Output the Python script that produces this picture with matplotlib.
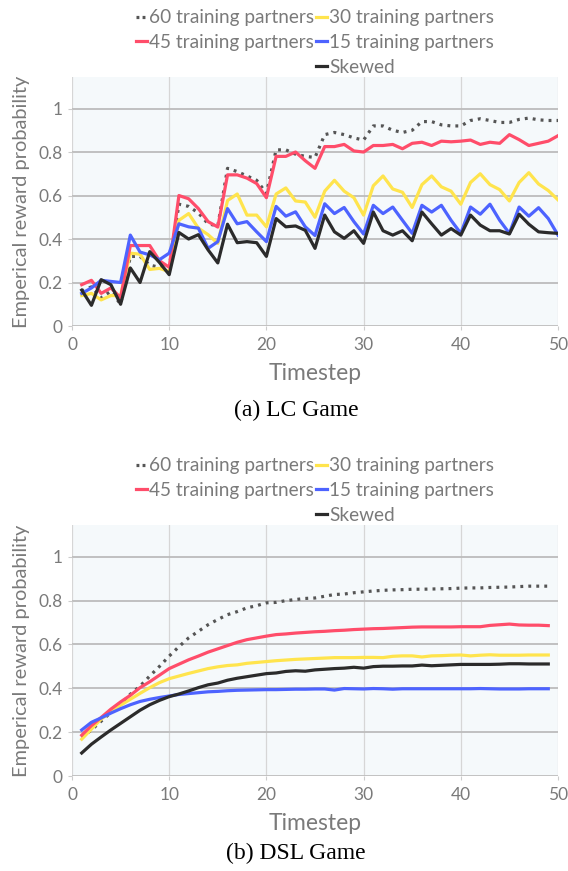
import numpy as np
import matplotlib
matplotlib.use("Agg")
import matplotlib.pyplot as plt
from matplotlib.lines import Line2D

plt.rcParams['font.family'] = ['Lato', 'DejaVu Sans']

labels = ["60 training partners", "45 training partners", "30 training partners",
          "15 training partners", "Skewed"]

# (a) LC Game, timesteps 1..50
lc_x = np.arange(1, 51)
lc_60 = [0.16, 0.18, 0.13, 0.16, 0.10, 0.32, 0.32, 0.28, 0.27, 0.27,
         0.56, 0.55, 0.52, 0.47, 0.46, 0.725, 0.71, 0.69, 0.67, 0.61,
         0.81, 0.81, 0.79, 0.78, 0.775, 0.88, 0.89, 0.88, 0.865, 0.855,
         0.92, 0.92, 0.90, 0.89, 0.90, 0.94, 0.94, 0.925, 0.92, 0.92,
         0.945, 0.953, 0.945, 0.936, 0.936, 0.95, 0.956, 0.948, 0.945, 0.945]
lc_45 = [0.19, 0.21, 0.15, 0.175, 0.13, 0.37, 0.37, 0.37, 0.30, 0.27,
         0.60, 0.585, 0.54, 0.48, 0.455, 0.695, 0.695, 0.68, 0.655, 0.59,
         0.78, 0.78, 0.80, 0.76, 0.725, 0.825, 0.825, 0.835, 0.805, 0.80,
         0.83, 0.83, 0.835, 0.815, 0.84, 0.845, 0.83, 0.85, 0.847, 0.85,
         0.855, 0.835, 0.845, 0.84, 0.88, 0.857, 0.83, 0.84, 0.85, 0.875]
lc_30 = [0.14, 0.15, 0.12, 0.14, 0.14, 0.335, 0.33, 0.26, 0.265, 0.25,
         0.486, 0.517, 0.45, 0.42, 0.38, 0.577, 0.607, 0.51, 0.51, 0.456,
         0.607, 0.635, 0.575, 0.57, 0.50, 0.62, 0.67, 0.62, 0.59, 0.51,
         0.645, 0.69, 0.63, 0.615, 0.545, 0.65, 0.69, 0.64, 0.62, 0.56,
         0.66, 0.70, 0.65, 0.627, 0.575, 0.66, 0.705, 0.653, 0.623, 0.58]
lc_15 = [0.15, 0.175, 0.21, 0.205, 0.20, 0.418, 0.34, 0.327, 0.305, 0.335,
         0.47, 0.456, 0.45, 0.357, 0.388, 0.54, 0.47, 0.48, 0.433, 0.388,
         0.55, 0.505, 0.525, 0.456, 0.416, 0.562, 0.517, 0.545, 0.48, 0.423,
         0.555, 0.517, 0.547, 0.486, 0.426, 0.555, 0.524, 0.555, 0.486, 0.426,
         0.547, 0.514, 0.56, 0.486, 0.426, 0.547, 0.505, 0.544, 0.494, 0.418]
lc_sk = [0.165, 0.095, 0.213, 0.19, 0.10, 0.267, 0.20, 0.342, 0.292, 0.236,
         0.43, 0.40, 0.42, 0.35, 0.29, 0.468, 0.383, 0.388, 0.383, 0.32,
         0.494, 0.456, 0.46, 0.44, 0.357, 0.51, 0.433, 0.403, 0.438, 0.38,
         0.524, 0.438, 0.418, 0.438, 0.392, 0.524, 0.47, 0.418, 0.448, 0.418,
         0.51, 0.464, 0.438, 0.438, 0.423, 0.514, 0.468, 0.433, 0.429, 0.426]

# (b) DSL Game, timesteps 1..49
dsl_x = np.arange(1, 50)
dsl_60 = [0.176, 0.21, 0.25, 0.29, 0.327, 0.373, 0.41, 0.456, 0.50, 0.547,
          0.59, 0.63, 0.66, 0.69, 0.714, 0.736, 0.75, 0.767, 0.777, 0.79,
          0.792, 0.80, 0.805, 0.81, 0.812, 0.82, 0.828, 0.83, 0.836, 0.84,
          0.844, 0.847, 0.849, 0.85, 0.852, 0.852, 0.853, 0.854, 0.855, 0.857,
          0.858, 0.858, 0.86, 0.861, 0.862, 0.864, 0.866, 0.866, 0.866]
dsl_45 = [0.186, 0.23, 0.267, 0.305, 0.338, 0.368, 0.403, 0.43, 0.46, 0.49,
          0.51, 0.53, 0.547, 0.565, 0.58, 0.595, 0.61, 0.622, 0.63, 0.638,
          0.645, 0.648, 0.652, 0.655, 0.658, 0.66, 0.663, 0.665, 0.668, 0.67,
          0.672, 0.673, 0.675, 0.677, 0.679, 0.68, 0.68, 0.68, 0.68, 0.681,
          0.681, 0.681, 0.687, 0.69, 0.693, 0.689, 0.688, 0.688, 0.686]
dsl_30 = [0.168, 0.214, 0.26, 0.292, 0.323, 0.35, 0.377, 0.403, 0.426, 0.444,
          0.456, 0.468, 0.479, 0.49, 0.498, 0.504, 0.507, 0.514, 0.518, 0.522,
          0.526, 0.529, 0.532, 0.534, 0.536, 0.538, 0.54, 0.54, 0.54, 0.541,
          0.541, 0.54, 0.546, 0.548, 0.548, 0.543, 0.548, 0.549, 0.551, 0.552,
          0.548, 0.551, 0.553, 0.551, 0.551, 0.551, 0.552, 0.552, 0.552]
dsl_15 = [0.21, 0.245, 0.265, 0.287, 0.307, 0.325, 0.34, 0.35, 0.358, 0.365,
          0.372, 0.376, 0.38, 0.384, 0.386, 0.389, 0.391, 0.392, 0.393, 0.394,
          0.394, 0.395, 0.396, 0.396, 0.397, 0.397, 0.392, 0.399, 0.398, 0.397,
          0.399, 0.398, 0.396, 0.398, 0.398, 0.398, 0.398, 0.398, 0.398, 0.398,
          0.398, 0.399, 0.398, 0.397, 0.397, 0.397, 0.398, 0.398, 0.398]
dsl_sk = [0.105, 0.145, 0.178, 0.21, 0.24, 0.27, 0.3, 0.325, 0.345, 0.362,
          0.374, 0.388, 0.403, 0.416, 0.424, 0.437, 0.446, 0.453, 0.46, 0.467,
          0.47, 0.477, 0.48, 0.478, 0.484, 0.487, 0.49, 0.492, 0.496, 0.492,
          0.499, 0.501, 0.501, 0.502, 0.502, 0.506, 0.503, 0.505, 0.507, 0.509,
          0.509, 0.509, 0.509, 0.51, 0.512, 0.512, 0.511, 0.511, 0.511]

colors = {"60": "#555555", "45": "#ff4d6a", "30": "#ffe44d", "15": "#4d63ff", "sk": "#2b2b2b"}
LW = 2.3
GRAY_TXT = "#7a7a7a"


def draw_panel(ax, x, series, top):
    s60, s45, s30, s15, ssk = series
    ax.set_facecolor("#f5f9fb")
    ax.plot(x, s60, color=colors["60"], lw=LW, ls=(0, (0.9, 1.6)), zorder=3)
    ax.plot(x, s30, color=colors["30"], lw=LW, zorder=3)
    ax.plot(x, s45, color=colors["45"], lw=LW, zorder=3)
    ax.plot(x, s15, color=colors["15"], lw=LW, zorder=3)
    ax.plot(x, ssk, color=colors["sk"], lw=LW, zorder=3)
    ax.set_xlim(0, 50)
    ax.set_ylim(0, top)
    ax.set_xticks([0, 10, 20, 30, 40, 50])
    ax.set_yticks([0, 0.2, 0.4, 0.6, 0.8, 1.0])
    ax.set_yticklabels(["0", "0.2", "0.4", "0.6", "0.8", "1"])
    for sp in ax.spines.values():
        sp.set_visible(False)
    ax.axhline(0, color="#cccccc", lw=1, zorder=2)
    ax.grid(axis="y", color="#bcbcbc", lw=1.3, zorder=1)
    ax.grid(axis="x", color="#d6d6d6", lw=0.9, zorder=1)
    ax.set_axisbelow(True)
    ax.tick_params(colors="#cccccc", labelcolor=GRAY_TXT, labelsize=12.5, length=3, width=0.8)
    ax.tick_params(axis="x", pad=5)
    ax.set_xlabel("Timestep", color=GRAY_TXT, fontsize=16.5, labelpad=7)
    ax.set_ylabel("Emperical reward probability", color=GRAY_TXT, fontsize=14.4, labelpad=6)
    handles = [
        Line2D([], [], color=colors["60"], lw=LW, ls=(0, (0.9, 1.0))),
        Line2D([], [], color=colors["45"], lw=LW),
        Line2D([], [], color="none"),
        Line2D([], [], color=colors["30"], lw=LW),
        Line2D([], [], color=colors["15"], lw=LW),
        Line2D([], [], color=colors["sk"], lw=LW),
    ]
    names = [labels[0], labels[1], "", labels[2], labels[3], labels[4]]
    ax.legend(handles, names, ncol=2, loc="lower center", bbox_to_anchor=(0.5, 0.96),
              frameon=False, fontsize=13.7, handlelength=0.6, handletextpad=0.1,
              columnspacing=0.1, labelspacing=0.4, labelcolor=GRAY_TXT, borderpad=0.1)


fig = plt.figure(figsize=(5.68, 8.71), dpi=100)
ax1 = fig.add_axes([72 / 568, 1 - 326 / 871, 486 / 568, 249 / 871])
ax2 = fig.add_axes([72 / 568, 1 - 776 / 871, 486 / 568, 251 / 871])
draw_panel(ax1, lc_x, [lc_60, lc_45, lc_30, lc_15, lc_sk], 1.145)
draw_panel(ax2, dsl_x, [dsl_60, dsl_45, dsl_30, dsl_15, dsl_sk], 1.145)

fig.text(296 / 568, 1 - 410 / 871, "(a) LC Game", ha="center", va="center",
         family="Liberation Serif", fontsize=17, color="black")
fig.text(296 / 568, 1 - 853 / 871, "(b) DSL Game", ha="center", va="center",
         family="Liberation Serif", fontsize=17, color="black")

fig.savefig("out.png", dpi=100)
